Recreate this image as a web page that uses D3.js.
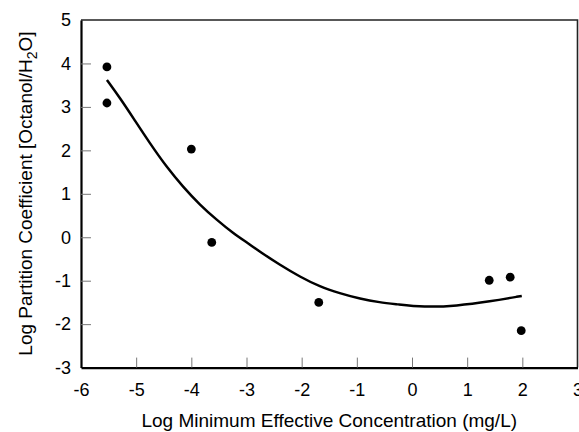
<!DOCTYPE html>
<html>
<head>
<meta charset="utf-8">
<script src="https://cdn.jsdelivr.net/npm/d3@7"></script>
<style>
  body { margin: 0; background: #fff; }
  text { font-family: "Liberation Sans", Arial, sans-serif; fill: #000; }
</style>
</head>
<body>
<svg id="chart" width="579" height="432"></svg>
<script>
// observed points
let pointX = [-5.53, -5.53, -4.0, -3.63, -1.69, 1.40, 1.78, 1.98];
let pointY = [3.92, 3.09, 2.03, -0.12, -1.50, -0.99, -0.92, -2.15];

// fitted curve
let curveX = [-5.53, -5.29, -5.05, -4.75, -4.45, -4.15, -3.84, -3.54, -3.24, -2.97, -2.76, -2.39, -2.03, -1.67, -1.31, -0.94, -0.58, -0.28, 0.21, 0.81, 1.41, 1.99];
let curveY = [3.62, 3.20, 2.74, 2.16, 1.62, 1.16, 0.74, 0.40, 0.09, -0.14, -0.33, -0.64, -0.91, -1.14, -1.29, -1.42, -1.50, -1.54, -1.61, -1.58, -1.48, -1.35];

let xTicks = [-6, -5, -4, -3, -2, -1, 0, 1, 2, 3];
let yTicks = [-3, -2, -1, 0, 1, 2, 3, 4, 5];

let margin = {left: 81, top: 20, right: 1.5, bottom: 64.4};
let width = 579, height = 432;
let tickSize = 18, titleSize = 19;

let svg = d3.select('#chart');

let x = d3.scaleLinear()
  .domain([-6, 3])
  .range([margin.left, width - margin.right]);

let y = d3.scaleLinear()
  .domain([-3, 5])
  .range([height - margin.bottom, margin.top]);

// top and right frame
svg.append('path')
  .attr('d', `M${x(-6)},${y(5)}H${x(3)}V${y(-3)}`)
  .attr('fill', 'none')
  .attr('stroke', '#222')
  .attr('stroke-width', 1.6);

// x axis
let xAxis = svg.append('g')
  .attr('transform', `translate(0,${y(-3)})`)
  .call(d3.axisBottom(x).tickValues(xTicks).tickSize(-10).tickSizeOuter(0).tickPadding(15.5).tickFormat(d => String(d)));

// y axis
let yAxis = svg.append('g')
  .attr('transform', `translate(${x(-6)},0)`)
  .call(d3.axisLeft(y).tickValues(yTicks).tickSize(-10).tickSizeOuter(0).tickPadding(10).tickFormat(d => String(d)));

[xAxis, yAxis].forEach(function(g) {
  g.select('.domain').attr('stroke', '#000').attr('stroke-width', 2.2);
  g.selectAll('.tick line').attr('stroke', '#777').attr('stroke-width', 1);
  g.selectAll('.tick text')
    .style('font-size', tickSize + 'px')
    .style('font-family', '"Liberation Sans", Arial, sans-serif')
    .attr('fill', '#000');
});
// keep tick marks off the frame corners
xAxis.selectAll('.tick').filter(d => d === -6 || d === 3).select('line').remove();
yAxis.selectAll('.tick').filter(d => d === -3 || d === 5).select('line').remove();

// fitted curve
let line = d3.line()
  .x(d => x(d[0]))
  .y(d => y(d[1]))
  .curve(d3.curveBasis);

svg.append('path')
  .datum(d3.zip(curveX, curveY))
  .attr('d', line)
  .attr('fill', 'none')
  .attr('stroke', '#000')
  .attr('stroke-width', 2.5);

// data points
svg.selectAll('circle')
  .data(d3.zip(pointX, pointY))
  .join('circle')
  .attr('cx', d => x(d[0]))
  .attr('cy', d => y(d[1]))
  .attr('r', 4.4)
  .attr('fill', '#000');

// axis titles
svg.append('text')
  .attr('x', (x(-6) + x(3)) / 2)
  .attr('y', 427)
  .attr('text-anchor', 'middle')
  .style('font-size', titleSize + 'px')
  .text('Log Minimum Effective Concentration (mg/L)');

let yTitle = svg.append('text')
  .attr('transform', 'translate(31.5,193.5) rotate(-90)')
  .attr('text-anchor', 'middle')
  .style('font-size', titleSize + 'px');
yTitle.append('tspan').text('Log Partition Coefficient [Octanol/H');
yTitle.append('tspan').attr('dy', 5).style('font-size', '14px').text('2');
yTitle.append('tspan').attr('dy', -5).text('O]');
</script>
</body>
</html>
